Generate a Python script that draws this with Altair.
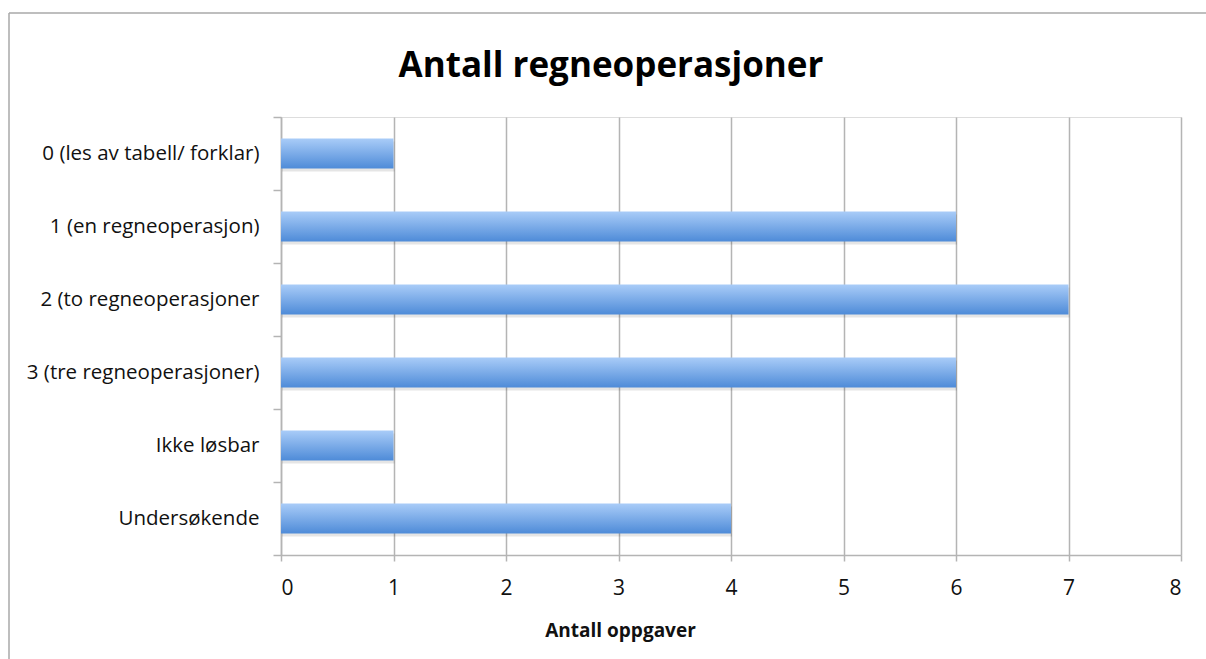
import altair as alt
import pandas as pd

categories = [
    "0 (les av tabell/ forklar)",
    "1 (en regneoperasjon)",
    "2 (to regneoperasjoner",
    "3 (tre regneoperasjoner)",
    "Ikke løsbar\u00a0",
    "Undersøkende",
]
values = [1, 6, 7, 6, 1, 4]
x_ticks = [0, 1, 2, 3, 4, 5, 6, 7, 8]
chart_title = ["Antall regneoperasjoner"]

df = pd.DataFrame({"kategori": categories, "antall": values})
frame_df = pd.DataFrame({"f": [0]})
title_df = pd.DataFrame({"t": chart_title})

FONT = "Open Sans"
GRID = "#b4b4b4"

grad = alt.Gradient(
    gradient="linear", x1=0, y1=0, x2=0, y2=1,
    stops=[alt.GradientStop(color="#a9ccf8", offset=0),
           alt.GradientStop(color="#4e8bd8", offset=1)],
)

y = alt.Y(
    "kategori:N", sort=categories, title=None,
    scale=alt.Scale(paddingInner=0, paddingOuter=0),
    axis=alt.Axis(
        tickBand="extent", grid=False, domainColor=GRID, domainWidth=1.5,
        tickColor=GRID, tickWidth=1.5, tickSize=8, labelPadding=14,
        labelFont=FONT, labelFontSize=20.5, labelColor="#111111",
        labelLimit=300,
    ),
)
x = alt.X(
    "antall:Q", title="Antall oppgaver",
    scale=alt.Scale(domain=[0, 8], nice=False),
    axis=alt.Axis(
        values=x_ticks, format="d", grid=True, gridColor=GRID, gridWidth=1.5,
        domainColor=GRID, domainWidth=1.5, tickColor=GRID, tickWidth=1.5,
        tickSize=6, labelPadding=16, labelFont=FONT, labelFontSize=21,
        labelColor="#111111", titleFont=FONT, titleFontSize=19,
        titleFontWeight="bold", titleColor="#111111",
        titleX=339, titleY=81, titleBaseline="alphabetic",
    ),
)

shadow = alt.Chart(df).mark_bar(
    height=30, color="#000000", opacity=0.10, yOffset=3, xOffset=1
).encode(x=x, y=y)
bars = alt.Chart(df).mark_bar(height=30, color=grad).encode(x=x, y=y)

frame_left = alt.Chart(frame_df).mark_rule(color="#a8a8a8", strokeWidth=1.5).encode(
    x=alt.value(-272), y=alt.value(-104), y2=alt.value(560)
)
frame_top = alt.Chart(frame_df).mark_rule(color="#a8a8a8", strokeWidth=1.5).encode(
    x=alt.value(-272), x2=alt.value(940), y=alt.value(-104)
)
title = alt.Chart(title_df).mark_text(
    font=FONT, fontSize=35, fontWeight="bold", color="#000000",
    align="center", baseline="alphabetic",
).encode(text="t:N", x=alt.value(330), y=alt.value(-40))

chart = (
    alt.layer(frame_left, frame_top, shadow, bars, title)
    .properties(
        width=900, height=438,
        autosize=alt.AutoSizeParams(type="none"),
        padding={"left": 281, "top": 117, "right": 25, "bottom": 104},
    )
    .configure_view(stroke=None)
    .configure(background="white")
)

chart.save("out.html", embed_options={"renderer": "svg", "actions": False})
